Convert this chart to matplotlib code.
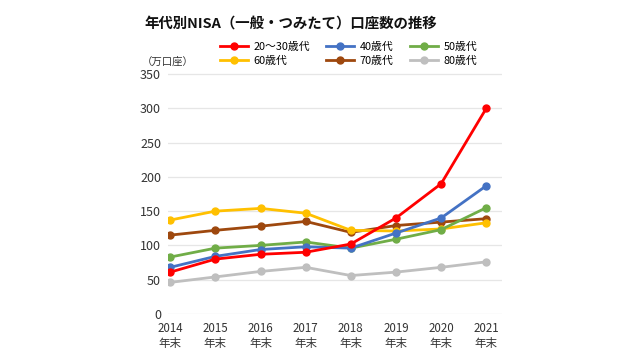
import matplotlib.pyplot as plt
from matplotlib.lines import Line2D

plt.rcParams['font.family'] = ['Noto Sans CJK JP', 'DejaVu Sans']

years = [2014, 2015, 2016, 2017, 2018, 2019, 2020, 2021]
year_labels = ['%d\n年末' % y for y in years]

age_20_30 = [61, 80, 87, 90, 102, 140, 190, 300]
age_40 = [68, 84, 94, 98, 96, 118, 140, 187]
age_50 = [83, 96, 100, 105, 96, 109, 123, 155]
age_60 = [137, 150, 154, 147, 122, 121, 124, 133]
age_70 = [115, 122, 128, 135, 119, 129, 134, 139]
age_80 = [46, 54, 62, 68, 56, 61, 68, 76]

series = [
    ('20～30歳代', age_20_30, '#FF0000'),
    ('40歳代', age_40, '#4472C4'),
    ('50歳代', age_50, '#70AD47'),
    ('60歳代', age_60, '#FFC000'),
    ('70歳代', age_70, '#9E480E'),
    ('80歳代', age_80, '#BFBFBF'),
]

fig = plt.figure(figsize=(6.4, 3.6), dpi=100)
ax = fig.add_axes([0.2625, 0.128, 0.522, 0.67])

# draw in reverse so red lies on top
for label, vals, color in reversed(series):
    ax.plot(years, vals, color=color, lw=2.0, marker='o', ms=5, zorder=3)

ax.set_xlim(2013.95, 2021.35)
ax.set_ylim(0, 352)
ax.set_yticks(range(0, 351, 50))
ax.set_xticks(years)
ax.set_xticklabels(year_labels, fontsize=8.3, color='#333333', linespacing=1.15)
ax.tick_params(axis='y', labelsize=9, labelcolor='#333333', length=0, pad=5)
ax.tick_params(axis='x', length=0, pad=6)
ax.grid(axis='y', color='#E6E6E6', lw=0.9, zorder=0)
for s in ax.spines.values():
    s.set_visible(False)

fig.text(0.226, 0.935, '年代別NISA（一般・つみたて）口座数の推移',
         fontsize=10.4, fontweight='bold', va='center', ha='left', color='#111111')
fig.text(0.222, 0.828, '（万口座）', fontsize=7.5, va='center', ha='left', color='#333333')

# legend rows: 20-30 / 40 / 50, then 60 / 70 / 80
order = [0, 3, 1, 4, 2, 5]
handles = [Line2D([], [], color=series[i][2], lw=2.0, marker='o', ms=5) for i in order]
labels = [series[i][0] for i in order]
fig.legend(handles, labels, ncol=3, loc='center left', bbox_to_anchor=(0.335, 0.85),
           frameon=False, fontsize=7.8, handlelength=2.6, columnspacing=1.5,
           handletextpad=0.5, labelspacing=0.35, borderpad=0)

fig.savefig('out.png', dpi=100)
